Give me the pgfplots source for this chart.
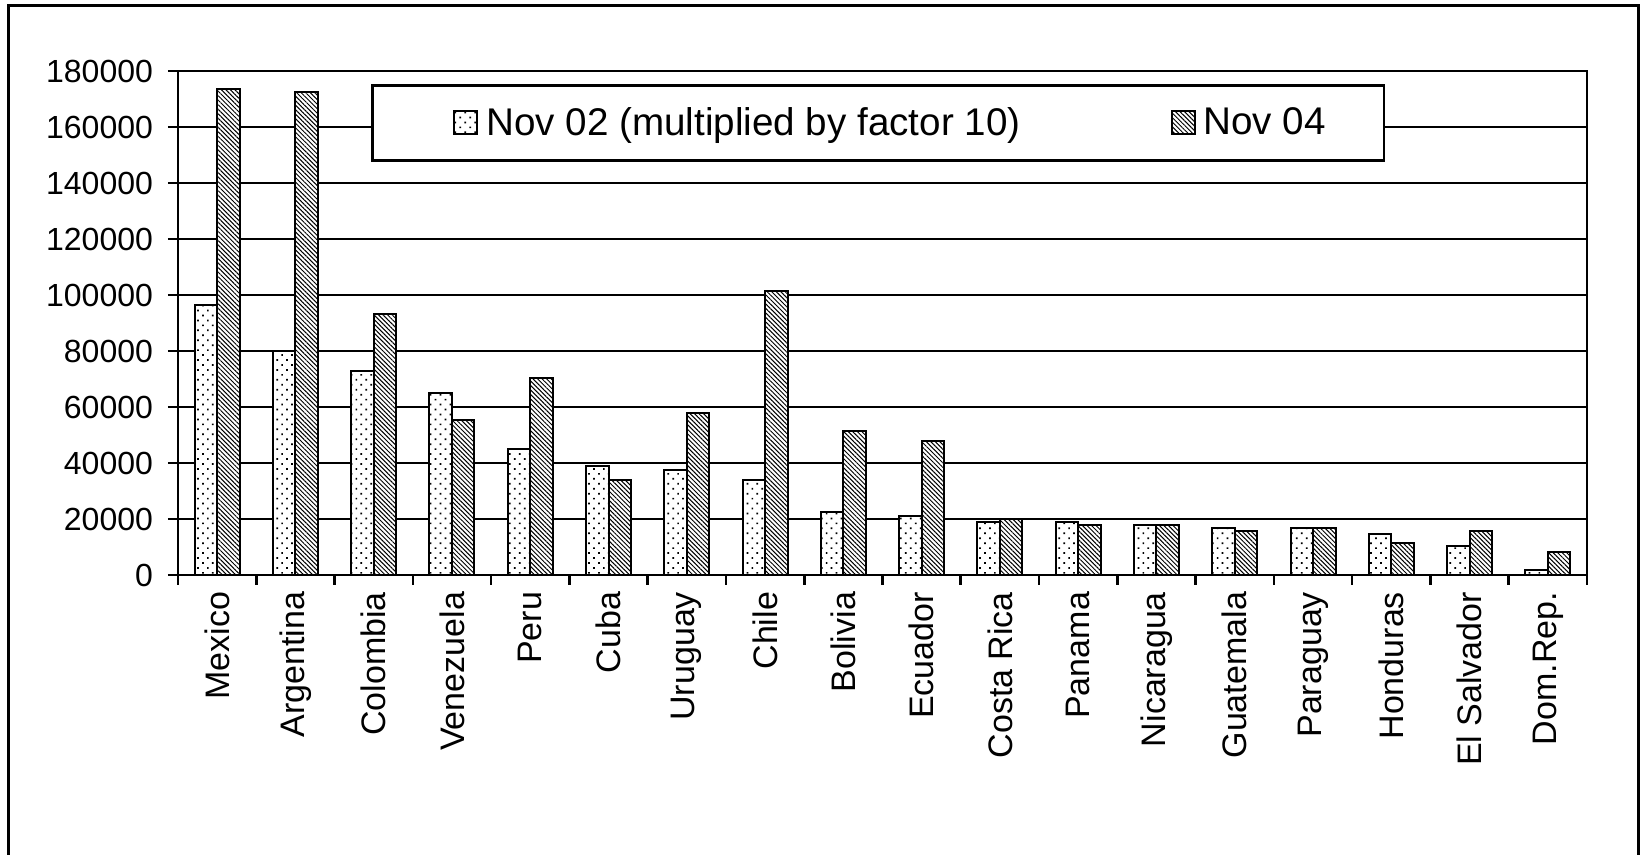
\documentclass[border=0pt]{standalone}
\usepackage{fontspec}
\setmainfont{Liberation Sans}
\usepackage{pgfplots}
\pgfplotsset{compat=1.18}
\usetikzlibrary{patterns.meta}

\tikzset{
  dotsfill/.style={draw=black, line width=1pt, fill=white,
    postaction={pattern={Dots[distance=3.5pt, angle=45, radius=0.6pt]}}},
  linesfill/.style={draw=black, line width=1pt, fill=white,
    postaction={pattern={Lines[angle=-45, distance=1.6pt, line width=0.5pt]}}},
}

\begin{document}
\begin{tikzpicture}
\useasboundingbox (0,0) rectangle (820pt,427.5pt);
\draw[line width=1.5pt] (4pt,-20pt) rectangle (819pt,424.5pt);
\begin{axis}[
    at={(89pt,140pt)}, anchor=south west,
    width=704.5pt, height=252pt, scale only axis,
    ybar=0pt, bar width=11.25pt,
    xmin=0.5, xmax=18.5,
    ymin=0, ymax=180000,
    xtick={1,...,18},
    xticklabels={Mexico,Argentina,Colombia,Venezuela,Peru,Cuba,Uruguay,Chile,Bolivia,Ecuador,Costa Rica,Panama,Nicaragua,Guatemala,Paraguay,Honduras,El Salvador,Dom.Rep.},
    minor xtick={0.5,1.5,...,18.5},
    ytick={0,20000,...,180000},
    scaled y ticks=false,
    yticklabel style={/pgf/number format/fixed, /pgf/number format/1000 sep={},
      /pgf/number format/assume math mode=true, font=\fontsize{16}{19}\selectfont,
      xshift=-4pt},
    xticklabel style={rotate=90, anchor=east, font=\fontsize{17}{20}\selectfont},
    tick pos=left,
    ymajorgrids,
    major grid style={line width=1.3pt, black},
    axis line style={line width=1.3pt},
    tick align=outside,
    tick style={black, line width=1.3pt},
    major tick length=5pt,
    minor tick length=5pt,
    major x tick style={draw=none},
    legend style={at={(0.137,0.974)}, anchor=north west, draw=black, line width=1.3pt,
      fill=white, legend columns=2, font=\fontsize{19.3}{22}\selectfont,
      inner xsep=27pt, inner ysep=9pt,
      /tikz/every even column/.append style={column sep=59.5pt}},
    legend image code/.code={%
      \path (-13.5pt,0pt) (13.5pt,0pt);
      \draw[#1] (0pt,-5.75pt) rectangle (11.5pt,5.75pt);},
]
\addplot[dotsfill] coordinates {
 (1,96300) (2,80100) (3,72700) (4,65000) (5,45000) (6,39000) (7,37500) (8,34000) (9,22500)
 (10,21000) (11,18900) (12,18900) (13,18000) (14,16900) (15,16900) (16,14700) (17,10500) (18,1700)
};
\addlegendentry{Nov 02 (multiplied by factor 10)}
\addplot[linesfill] coordinates {
 (1,173600) (2,172500) (3,93100) (4,55500) (5,70500) (6,34000) (7,58000) (8,101500) (9,51500)
 (10,48000) (11,20000) (12,18000) (13,18000) (14,15800) (15,16900) (16,11500) (17,15800) (18,8300)
};
\addlegendentry{Nov 04}
\end{axis}
\end{tikzpicture}
\end{document}
